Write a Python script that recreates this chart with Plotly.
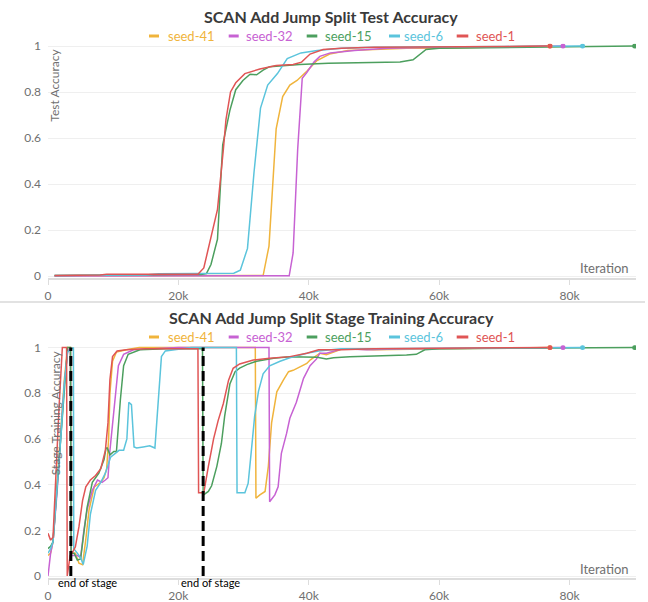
import plotly.graph_objects as go

# ---------------- data ----------------
series_names = ["seed-41", "seed-32", "seed-15", "seed-6", "seed-1"]

# Test accuracy (top chart)
test_x_seed41 = [1000, 10000, 20000, 30000, 33000, 33900, 35000, 36000, 37100, 38200, 39700, 41200, 43200, 46000, 50000, 55000, 60000, 70000, 77000]
test_y_seed41 = [0.0, 0.001, 0.002, 0.002, 0.002, 0.13, 0.64, 0.78, 0.83, 0.85, 0.89, 0.935, 0.965, 0.98, 0.985, 0.99, 0.99, 0.995, 1.0]

test_x_seed32 = [1000, 10000, 20000, 30000, 37000, 37600, 38300, 39000, 39700, 40800, 41700, 43300, 45000, 47000, 52000, 60000, 70000, 79000]
test_y_seed32 = [0.0, 0.0, 0.001, 0.001, 0.001, 0.1, 0.55, 0.86, 0.885, 0.93, 0.955, 0.97, 0.975, 0.98, 0.99, 0.995, 0.997, 1.0]

test_x_seed15 = [1000, 5000, 10000, 15000, 20000, 23500, 24300, 25000, 26000, 26800, 27900, 28800, 29900, 31000, 32000, 33000, 34000, 36600, 38600, 43000, 48000, 54000, 56000, 58000, 60000, 70000, 80000, 90000]
test_y_seed15 = [0.002, 0.002, 0.004, 0.005, 0.006, 0.006, 0.01, 0.05, 0.16, 0.57, 0.72, 0.81, 0.85, 0.877, 0.875, 0.895, 0.91, 0.915, 0.92, 0.925, 0.927, 0.93, 0.94, 0.985, 0.99, 0.995, 0.997, 1.0]

test_x_seed6 = [1000, 5000, 10000, 15000, 17000, 20000, 25000, 28500, 29500, 30600, 31600, 32600, 33700, 35200, 36700, 38800, 41300, 45000, 50000, 60000, 70000, 82000]
test_y_seed6 = [0.002, 0.002, 0.003, 0.004, 0.01, 0.01, 0.011, 0.012, 0.025, 0.12, 0.45, 0.73, 0.83, 0.88, 0.945, 0.97, 0.98, 0.99, 0.995, 0.997, 0.998, 1.0]

test_x_seed1 = [1000, 5000, 8000, 9000, 12000, 15000, 18000, 21000, 23000, 23900, 24800, 26000, 26900, 27300, 28000, 28800, 30200, 32500, 35000, 37600, 38900, 40200, 42200, 45000, 50000, 55000, 60000, 65000, 70000, 77000]
test_y_seed1 = [0.002, 0.003, 0.004, 0.008, 0.008, 0.007, 0.008, 0.006, 0.008, 0.035, 0.15, 0.29, 0.55, 0.68, 0.8, 0.84, 0.88, 0.9, 0.915, 0.92, 0.93, 0.965, 0.985, 0.99, 0.995, 0.995, 0.997, 0.997, 0.998, 1.0]

# Stage training accuracy (bottom chart)
stage_x_seed41 = [0, 400, 770, 1400, 2000, 2500, 3000, 3450, 3550, 4200, 4750, 5300, 5800, 6300, 7100, 8100, 8600, 9000, 9300, 9500, 9900, 10500, 12000, 14000, 20000, 31800, 31900, 32500, 33300, 33800, 34300, 35100, 36100, 36900, 37600, 38700, 39700, 40200, 41700, 42700, 43800, 45300, 50000, 60000, 70000, 77000]
stage_y_seed41 = [0.09, 0.1, 0.15, 0.4, 0.66, 0.86, 1.0, 1.0, 0.1, 0.1, 0.056, 0.05, 0.16, 0.29, 0.39, 0.41, 0.43, 0.47, 0.6, 0.8, 0.94, 0.98, 0.99, 1.0, 1.0, 1.0, 0.34, 0.355, 0.37, 0.48, 0.67, 0.806, 0.857, 0.894, 0.9, 0.915, 0.93, 0.945, 0.975, 0.968, 0.98, 0.995, 0.99, 0.995, 0.998, 1.0]

stage_x_seed32 = [0, 400, 770, 1400, 2000, 2500, 3000, 3450, 3550, 4500, 5000, 5500, 6000, 6800, 7600, 8300, 8800, 9200, 9500, 9900, 10300, 10800, 11600, 13100, 20000, 33900, 34000, 34800, 35300, 35800, 36600, 37100, 38100, 39200, 40200, 41200, 41700, 42700, 45300, 48900, 55000, 65000, 79000]
stage_y_seed32 = [0.0, 0.1, 0.15, 0.37, 0.63, 0.84, 0.98, 1.0, 0.09, 0.09, 0.08, 0.2, 0.29, 0.375, 0.42, 0.41, 0.42, 0.43, 0.55, 0.66, 0.77, 0.92, 0.97, 0.99, 1.0, 1.0, 0.325, 0.355, 0.39, 0.537, 0.624, 0.69, 0.76, 0.865, 0.92, 0.95, 0.975, 0.975, 0.995, 0.99, 0.995, 0.998, 1.0]

stage_x_seed15 = [0, 400, 770, 1400, 2000, 2500, 3000, 3450, 3550, 4000, 4500, 5000, 5500, 6000, 6800, 7800, 8600, 8900, 9100, 9500, 10100, 10500, 11100, 11600, 12300, 14100, 18000, 23700, 23800, 24600, 25100, 25900, 26600, 27100, 27900, 28700, 29400, 30500, 32000, 34600, 37100, 41300, 42700, 43800, 46300, 51400, 55000, 56500, 57800, 60000, 70000, 80000, 90000]
stage_y_seed15 = [0.12, 0.13, 0.15, 0.39, 0.65, 0.85, 1.0, 1.0, 0.1, 0.1, 0.07, 0.075, 0.19, 0.3, 0.41, 0.45, 0.51, 0.56, 0.56, 0.53, 0.545, 0.545, 0.77, 0.92, 0.97, 0.99, 0.995, 0.995, 0.354, 0.37, 0.395, 0.48, 0.58, 0.7, 0.84, 0.894, 0.91, 0.925, 0.94, 0.953, 0.96, 0.957, 0.95, 0.955, 0.96, 0.963, 0.967, 0.97, 0.99, 0.995, 0.997, 0.998, 1.0]

stage_x_seed6 = [0, 400, 770, 1400, 2000, 2500, 3000, 3900, 3950, 4500, 5000, 5400, 6000, 6500, 7300, 8100, 8800, 9600, 10900, 11600, 12100, 12400, 12800, 13200, 13600, 14600, 15600, 16400, 16900, 17400, 18000, 19700, 22000, 28900, 29000, 30200, 30700, 31200, 31700, 32300, 33000, 34000, 35600, 37100, 39700, 41500, 45000, 50000, 60000, 70000, 82000]
stage_y_seed6 = [0.1, 0.12, 0.15, 0.38, 0.62, 0.84, 0.98, 1.0, 0.12, 0.1, 0.08, 0.05, 0.13, 0.27, 0.375, 0.41, 0.45, 0.52, 0.55, 0.55, 0.6, 0.76, 0.75, 0.565, 0.56, 0.565, 0.57, 0.56, 0.74, 0.96, 0.985, 0.99, 1.0, 1.0, 0.364, 0.364, 0.405, 0.55, 0.7, 0.81, 0.885, 0.92, 0.94, 0.955, 0.975, 0.985, 0.995, 0.995, 0.997, 0.998, 1.0]

stage_x_seed1 = [0, 400, 770, 1200, 1700, 2200, 2850, 2950, 3400, 3700, 4200, 4750, 5300, 5800, 6500, 7300, 8100, 8800, 9200, 9500, 9900, 10600, 12000, 15000, 20000, 23000, 23100, 23900, 24600, 25400, 26100, 26900, 27700, 28400, 29400, 31500, 34000, 37100, 39700, 41500, 45000, 50000, 60000, 70000, 77000]
stage_y_seed1 = [0.187, 0.157, 0.17, 0.45, 0.74, 1.0, 1.0, 0.0, 0.09, 0.1, 0.128, 0.216, 0.33, 0.39, 0.42, 0.44, 0.47, 0.55, 0.67, 0.86, 0.96, 0.985, 0.99, 0.995, 0.995, 0.995, 0.364, 0.364, 0.48, 0.6, 0.68, 0.755, 0.857, 0.909, 0.928, 0.945, 0.953, 0.96, 0.975, 0.99, 0.99, 0.995, 0.997, 0.998, 1.0]

stage_end_iterations = [3500, 23800]

x_tick_values = [0, 20000, 40000, 60000, 80000]
x_tick_labels = ["0", "20k", "40k", "60k", "80k"]
y_tick_values = [0, 0.2, 0.4, 0.6, 0.8, 1]
y_tick_labels = ["0", "0.2", "0.4", "0.6", "0.8", "1"]

test_series = {
    "seed-41": (test_x_seed41, test_y_seed41),
    "seed-32": (test_x_seed32, test_y_seed32),
    "seed-15": (test_x_seed15, test_y_seed15),
    "seed-6": (test_x_seed6, test_y_seed6),
    "seed-1": (test_x_seed1, test_y_seed1),
}
stage_series = {
    "seed-41": (stage_x_seed41, stage_y_seed41),
    "seed-32": (stage_x_seed32, stage_y_seed32),
    "seed-15": (stage_x_seed15, stage_y_seed15),
    "seed-6": (stage_x_seed6, stage_y_seed6),
    "seed-1": (stage_x_seed1, stage_y_seed1),
}

# ---------------- style ----------------
COLORS = {
    "seed-41": "#F0B43C",
    "seed-32": "#C762D3",
    "seed-15": "#4C9F5E",
    "seed-6": "#5BC4DC",
    "seed-1": "#E05555",
}
FONT = "Lato"
TICK_COLOR = "#707070"
TITLE_COLOR = "#3a3a3a"
W, H = 648, 602


def py(p):
    return 1 - p / H


def pxx(p):
    return p / W


fig = go.Figure()

for axis_suffix, series in (("", test_series), ("2", stage_series)):
    for name in series_names:
        xs, ys = series[name]
        fig.add_trace(go.Scatter(
            x=xs, y=ys, mode="lines", name=name,
            line=dict(color=COLORS[name], width=1.5),
            xaxis="x" + axis_suffix, yaxis="y" + axis_suffix,
            showlegend=False, hoverinfo="skip",
        ))
    for name in series_names:
        xs, ys = series[name]
        fig.add_trace(go.Scatter(
            x=[xs[-1]], y=[ys[-1]], mode="markers",
            marker=dict(color=COLORS[name], size=5),
            xaxis="x" + axis_suffix, yaxis="y" + axis_suffix,
            showlegend=False, hoverinfo="skip",
        ))

for xe in stage_end_iterations:
    fig.add_trace(go.Scatter(
        x=[xe, xe], y=[0, 1], mode="lines",
        line=dict(color="black", width=3, dash="10px,5px"),
        xaxis="x2", yaxis="y2", showlegend=False, hoverinfo="skip",
    ))

x_dom = [pxx(48), pxx(636)]
common_x = dict(
    range=[0, 90200], tickvals=x_tick_values, ticktext=x_tick_labels,
    showgrid=False, zeroline=False, showline=True, linecolor="#dddddd", linewidth=2,
    ticks="outside", ticklen=5, tickcolor="#dddddd", automargin=False,
    tickfont=dict(family=FONT, size=12, color=TICK_COLOR), domain=x_dom,
)
common_y = dict(
    range=[-0.01, 1.01], tickvals=y_tick_values, ticktext=y_tick_labels,
    showgrid=True, gridcolor="#efefef", gridwidth=1, zeroline=False, showline=False,
    ticks="", ticklabelstandoff=6, automargin=False,
    tickfont=dict(family=FONT, size=12, color=TICK_COLOR),
)

annotations = []
shapes = []
for offset, title, ytitle in (
    (0, "SCAN Add Jump Split Test Accuracy", "Test Accuracy"),
    (301, "SCAN Add Jump Split Stage Training Accuracy", "Stage Training Accuracy"),
):
    annotations.append(dict(
        text="<b>" + title + "</b>", x=pxx(331), y=py(16.5 + offset), xref="paper", yref="paper",
        xanchor="center", yanchor="middle", showarrow=False,
        font=dict(family=FONT, size=16, color=TITLE_COLOR),
    ))
    dash_pos = [(149, 159), (228.7, 238.7), (306.7, 317.3), (389, 400), (456.7, 468.3)]
    text_pos = [165.7, 244, 323, 402, 474]
    for name, (d0, d1), tx in zip(series_names, dash_pos, text_pos):
        shapes.append(dict(type="line", xref="paper", yref="paper",
                           x0=pxx(d0), x1=pxx(d1), y0=py(36 + offset), y1=py(36 + offset),
                           line=dict(color=COLORS[name], width=3)))
        annotations.append(dict(
            text=name, x=pxx(tx), y=py(36 + offset), xref="paper", yref="paper",
            xanchor="left", yanchor="middle", showarrow=False,
            font=dict(family=FONT, size=13, color=COLORS[name]),
        ))
    annotations.append(dict(
        text=ytitle, textangle=-90, x=pxx(55), y=py((85.7 if offset == 0 else 413.3)),
        xref="paper", yref="paper", xanchor="center", yanchor="middle", showarrow=False,
        font=dict(family=FONT, size=12, color=TICK_COLOR),
    ))
    annotations.append(dict(
        text="Iteration", x=pxx(631), y=py(268 + offset), xref="paper", yref="paper",
        xanchor="right", yanchor="middle", showarrow=False,
        font=dict(family=FONT, size=13, color=TICK_COLOR),
    ))

for xpos in (56, 179):
    annotations.append(dict(
        text="end of stage", x=pxx(xpos), y=py(582.7), xref="paper", yref="paper",
        xanchor="left", yanchor="middle", showarrow=False,
        font=dict(family=FONT, size=11, color="black"),
    ))

shapes.append(dict(type="line", xref="paper", yref="paper", x0=0, x1=pxx(645),
                   y0=py(302), y1=py(302), line=dict(color="#d8d8d8", width=1.5)))

fig.update_layout(
    width=W, height=H, margin=dict(l=0, r=0, t=0, b=0, autoexpand=False),
    paper_bgcolor="white", plot_bgcolor="white",
    xaxis=dict(common_x, anchor="y"),
    yaxis=dict(common_y, domain=[py(278.3), py(43.7)], anchor="x"),
    xaxis2=dict(common_x, anchor="y2"),
    yaxis2=dict(common_y, domain=[py(578.3), py(345.2)], anchor="x2"),
    annotations=annotations, shapes=shapes, showlegend=False,
)

fig.write_html(
    "out.html",
    config={"displayModeBar": False},
    post_script="document.body.style.margin='0';document.body.style.overflow='hidden';",
)
